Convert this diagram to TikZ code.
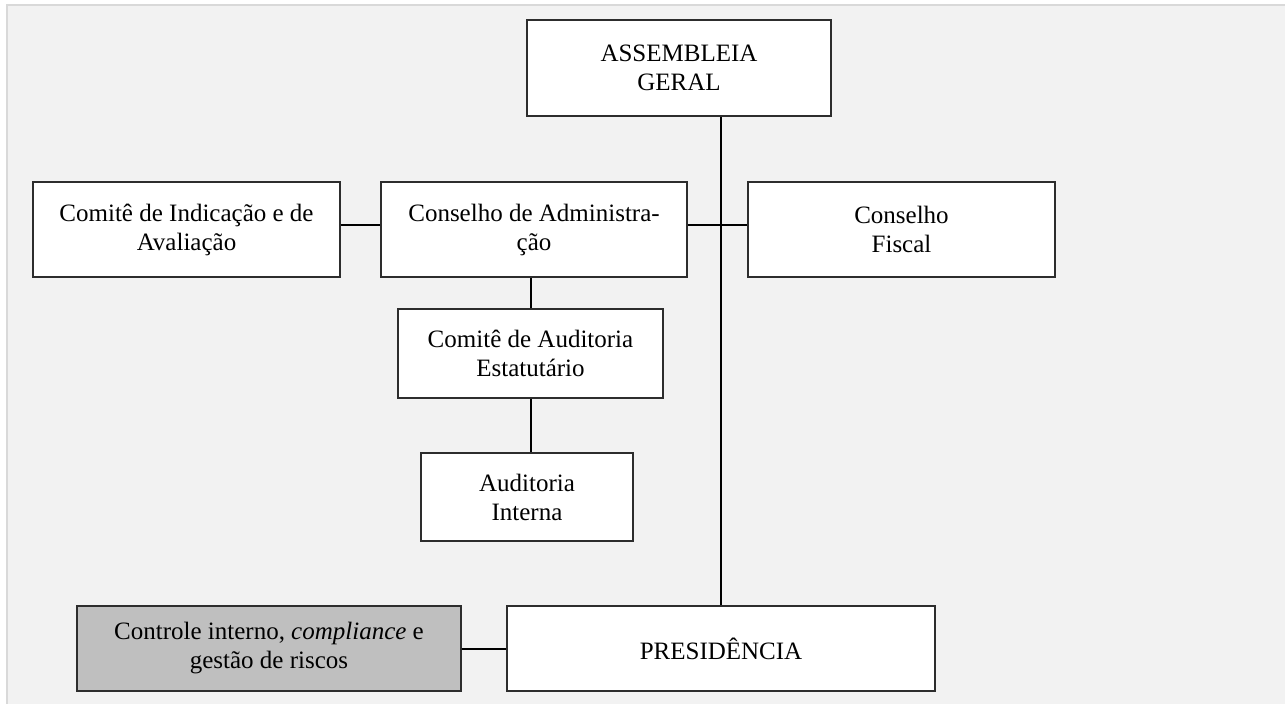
\documentclass[tikz,border=0pt]{standalone}
\usepackage{fontspec}
\setmainfont{Liberation Serif}
\usepackage{xcolor}
\definecolor{fundo}{RGB}{242,242,242}
\definecolor{moldura}{RGB}{217,217,217}
\definecolor{cinzaCaixa}{RGB}{191,191,191}
\definecolor{borda}{RGB}{45,45,45}
\usepackage{tikz}
\usetikzlibrary{calc,positioning}
\tikzstyle{linha} =[line width=2pt, black]
\tikzstyle{caixa} =[rectangle, draw=borda, fill=white,
                    line width=1.2pt, align=center, inner sep=0pt,
                    font=\fontsize{25}{29}\selectfont]

\begin{document}
\begin{tikzpicture}[x=1pt,y=-1pt]

    \useasboundingbox (0,0) rectangle (1285,704);
    \fill [white] (0,0) rectangle (1285,704);
    \fill [fundo] (7,5) rectangle (1285,704);
    \draw [moldura,line width=1.5pt] (1285,5) -- (7,5) -- (7,704);

    \draw (679,68) node (asm) [caixa,minimum width=304pt,minimum height=96pt] {ASSEMBLEIA\\GERAL};
    \draw (186.5,229.5) node (indic) [caixa,minimum width=307pt,minimum height=95pt] {Comitê de Indicação e de\\Avaliação};
    \draw (534,229.5) node (adm) [caixa,minimum width=306pt,minimum height=95pt] {Conselho de Administra-\\ção};
    \draw (901.5,229.5) node (fiscal) [caixa,minimum width=307pt,minimum height=95pt] {Conselho\\Fiscal};
    \draw (530.5,353.5) node (caudit) [caixa,minimum width=265pt,minimum height=89pt] {Comitê de Auditoria\\Estatutário};
    \draw (527,497) node (audint) [caixa,minimum width=212pt,minimum height=88pt] {Auditoria\\Interna};
    \draw (721,648.5) node (pres) [caixa,minimum width=428pt,minimum height=85pt] {PRESIDÊNCIA};
    \draw (269,648.5) node (ctrl) [caixa,fill=cinzaCaixa,minimum width=384pt,minimum height=85pt] {Controle interno, \textit{compliance} e\\gestão de riscos};

    \draw [linha] (pres.north) -- (pres.north |- asm.south);
    \draw [linha] (caudit.north) -- (caudit.north |- adm.south);
    \draw [linha] (caudit.south) -- (caudit.south |- audint.north);

    \foreach \i/\j in {indic/adm,adm/fiscal}
        \draw [linha] ([yshift=5pt]\i.east) to ([yshift=5pt]\j.west);
    \draw [linha] (ctrl) to (pres);

\end{tikzpicture}
\end{document}
